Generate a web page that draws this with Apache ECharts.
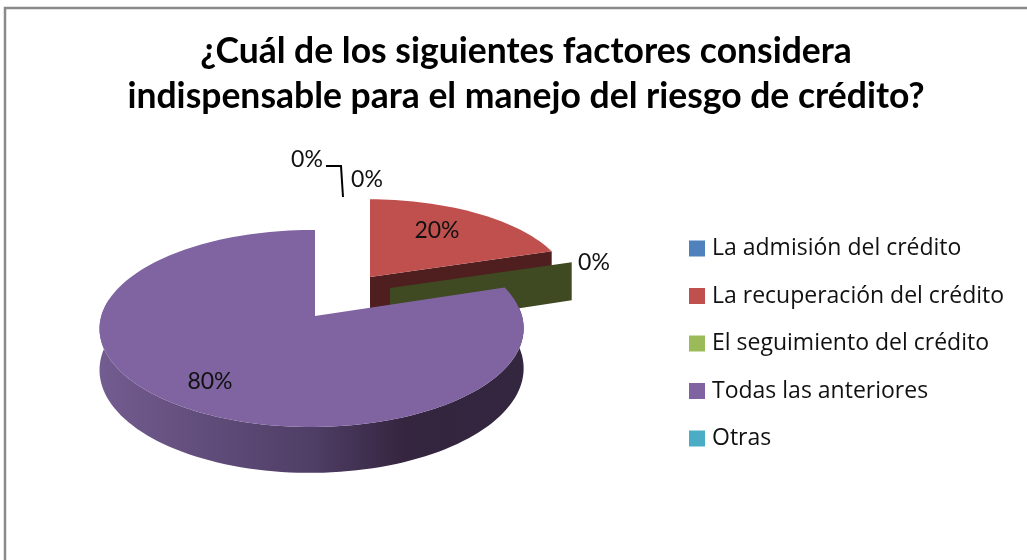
<!DOCTYPE html>
<html><head><meta charset="utf-8">
<style>html,body{margin:0;padding:0;background:#fff}#c{width:1027px;height:560px}</style>
<script src="https://cdn.jsdelivr.net/npm/echarts@6/dist/echarts.min.js"></script>
</head><body><div id="c"></div>
<script>
const categories = ["La admisión del crédito","La recuperación del crédito","El seguimiento del crédito","Todas las anteriores","Otras"];
const values = [0, 20, 0, 80, 0];
const titleLines = ["¿Cuál de los siguientes factores considera","indispensable para el manejo del riesgo de crédito?"];

const colors = ["#4F81BD","#C0504D","#9BBB59","#8064A2","#4BACC6"];
const wallColors = ["#2c4a6e","#4e1f1e","#3f4a22",null,"#2a6070"];
const apex = [[0,0],[370,277],[390,288],[315,316],[0,0]];
const scaleXY = [[1,1],[0.958,0.905],[0.958,0.905],[1,1],[1,1]];
const labelAt = [[307,160],[437,231],[594,263],[210,382],[367,180]];

const A = 210.3, B = 96.9, K = 0.127, M = 0.016, H = 40;
const total = values.reduce((a,b)=>a+b,0);
const starts = []; values.reduce((s,v,i)=>{starts[i]=s;return s+v/total*360;},0);
const rad = d=>d*Math.PI/180;
function proj(i, deg, rNorm, down){
  const u = Math.sin(rad(deg))*rNorm, v = Math.cos(rad(deg))*rNorm, w = 1+K*v+M*u;
  const s = scaleXY[i];
  return [apex[i][0] + s[0]*A*u/w, apex[i][1] - s[1]*B*v/w + (down?H/w:0)];
}
function arc(i,a,b,down){
  const n = Math.max(1,Math.ceil(Math.abs(b-a)/2)), p=[];
  for(let k=0;k<=n;k++) p.push(proj(i,a+(b-a)*k/n,1,down));
  return p;
}
function wallFill(i){
  if(wallColors[i]) return wallColors[i];
  return new echarts.graphic.LinearGradient(0,0,1,0,[
    {offset:0,color:"#735c90"},{offset:0.5,color:"#4f3e66"},
    {offset:0.72,color:"#35253f"},{offset:1,color:"#33263f"}]);
}
function renderSlice(i){
  return function(params, api){
    const val = api.value(0), st = starts[i], en = st + val/total*360;
    const kids = [];
    if(val>0 || (st>0 && st<360)){
      const a = Math.max(st,80), b = Math.min(en,280);
      if(b>a){
        kids.push({type:'polygon',shape:{points:arc(i,a,b,false).concat(arc(i,b,a,true))},
          style:{fill:wallFill(i)}});
      }
      const face = en>0&&en<180 ? en : (st>180&&st<360 ? st : null);
      if(face!==null){
        kids.push({type:'polygon',shape:{points:[proj(i,face,0,false),proj(i,face,1,false),proj(i,face,1,true),proj(i,face,0,true)]},
          style:{fill:wallColors[i]||'#35253f'}});
      }
      if(val>0){
        kids.push({type:'polygon',shape:{points:[proj(i,st,0,false)].concat(arc(i,st,en,false))},
          style:{fill:colors[i]}});
      }
    }
    if(i===0){
      kids.push({type:'polyline',shape:{points:[[326,166],[341,166],[343,197]]},
        style:{stroke:'#000',lineWidth:2,fill:null}});
    }
    kids.push({type:'text',z2:10,style:{
      text:Math.round(val/total*100)+'%',x:labelAt[i][0],y:labelAt[i][1],
      align:'center',verticalAlign:'middle',fill:'#111',font:'23px Lato'}});
    return {type:'group',children:kids};
  };
}
const chart = echarts.init(document.getElementById('c'),null,{renderer:'canvas'});
chart.setOption({
  animation:false,
  backgroundColor:'#fff',
  title:{text:titleLines.join('\n'),left:521,top:24,textAlign:'center',
    textStyle:{fontFamily:'Lato',fontWeight:'bold',fontSize:35.5,lineHeight:45,color:'#000'}},
  legend:{orient:'vertical',left:689,top:237,padding:0,icon:'rect',itemWidth:16,itemHeight:16,itemGap:24.5,
    selectedMode:false,data:categories,
    textStyle:{fontFamily:'Open Sans',fontSize:23,lineHeight:22,color:'#111',padding:[0,0,0,2]}},
  graphic:[{type:'rect',silent:true,z:-1,shape:{x:5,y:8,width:1060,height:600},
    style:{fill:'#fff',stroke:'#8a8a8a',lineWidth:2.5}}],
  series:categories.map((name,i)=>({
    type:'custom',name,coordinateSystem:'none',silent:true,
    itemStyle:{color:colors[i]},
    data:[[values[i]]],
    renderItem:renderSlice(i)
  }))
});
</script></body></html>
